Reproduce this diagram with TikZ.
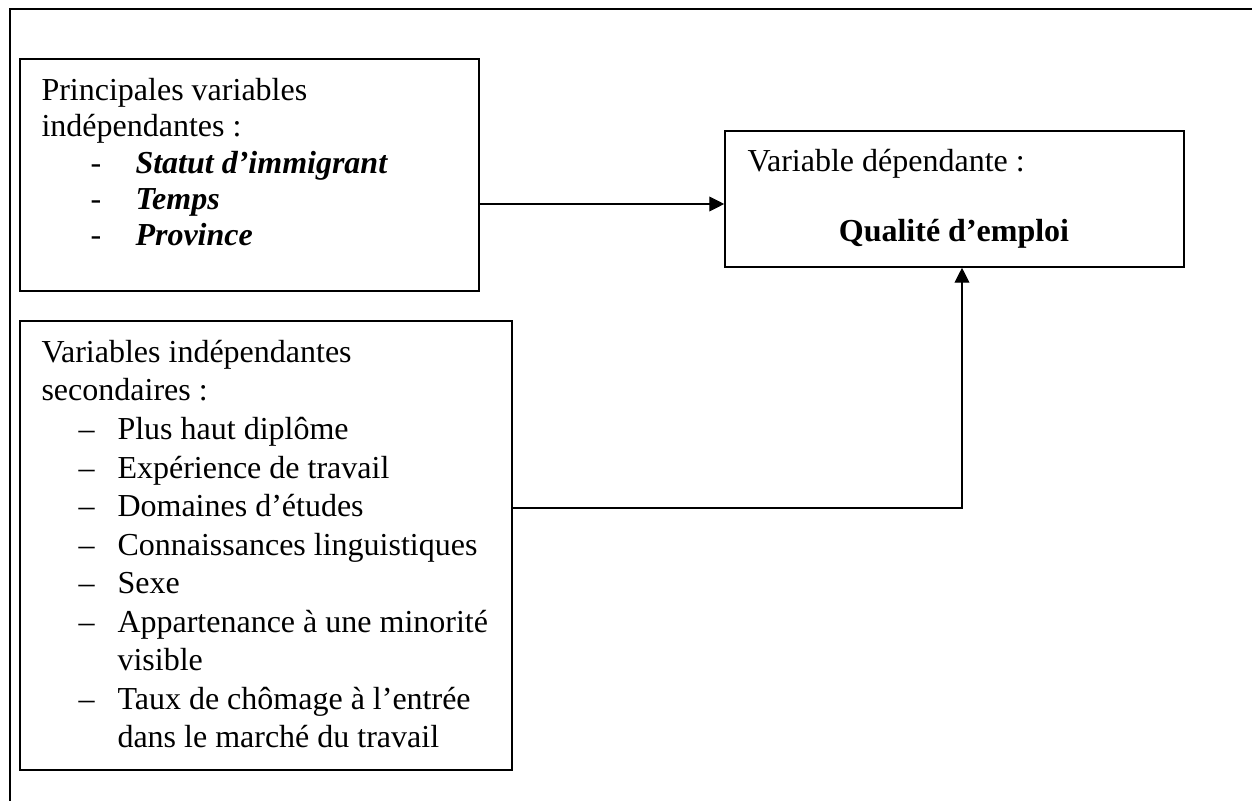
\documentclass[tikz,border=0pt]{standalone}
\usepackage{fontspec}
\setmainfont{Liberation Serif}
\usetikzlibrary{arrows.meta,fit}
\newcommand{\tiretA}[1]{\makebox[35.25pt][l]{\hspace*{18.4pt}-}#1}
\newcommand{\tiretB}[1]{\makebox[28.5pt][l]{\hspace*{13.9pt}--}#1}
\newcommand{\suite}[1]{\hspace*{28.5pt}#1}
\tikzset{
 boite/.style={draw, line width=0.6pt, inner sep=0pt},
 texte/.style={anchor=north west, inner sep=0pt, align=left},
}
\begin{document}
\begin{tikzpicture}[x=0.375pt,y=-0.375pt,>={Triangle[length=5.6pt,width=5.6pt]},line join=miter,font=\fontsize{12}{13.6}\selectfont]
 \useasboundingbox (0,0) rectangle (1252,801);
 % cadre
 \draw[line width=0.6pt] (10,801) -- (10,9) -- (1252,9);
 % boites
 \node[boite, fit={(20,59) (479,291)}] (prin) {};
 \node[boite, fit={(20,321) (512,770)}] (sec) {};
 \node[boite, fit={(725,131) (1184,267)}] (dep) {};
 \node[texte] (tprin) at (41,74.6) {\strut Principales variables\\
  indépendantes :\\
  \tiretA{\textbf{\textit{Statut d’immigrant}}}\\
  \tiretA{\textbf{\textit{Temps}}}\\
  \tiretA{\textbf{\textit{Province}}}};
 \node[texte, font=\fontsize{12}{14.44}\selectfont] (tsec) at (41,335) {\strut Variables indépendantes\\
  secondaires :\\
  \tiretB{Plus haut diplôme}\\
  \tiretB{Expérience de travail}\\
  \tiretB{Domaines d’études}\\
  \tiretB{Connaissances linguistiques}\\
  \tiretB{Sexe}\\
  \tiretB{Appartenance à une minorité}\\
  \suite{visible}\\
  \tiretB{Taux de chômage à l’entrée}\\
  \suite{dans le marché du travail}};
 \node[anchor=base west, inner sep=0pt] (tdep) at (747,172) {Variable dépendante :};
 \node[anchor=base, inner sep=0pt] (qual) at (954,242) {\textbf{Qualité d’emploi}};
 % fleches
 \coordinate (c1) at (600,204);
 \coordinate (c2) at (962,508);
 \draw[->, line width=0.4pt] (prin.east |- c1) -- (dep.west |- c1);
 \draw[->, line width=0.4pt] (sec.east |- c2) -| (dep.south -| c2);
\end{tikzpicture}
\end{document}
